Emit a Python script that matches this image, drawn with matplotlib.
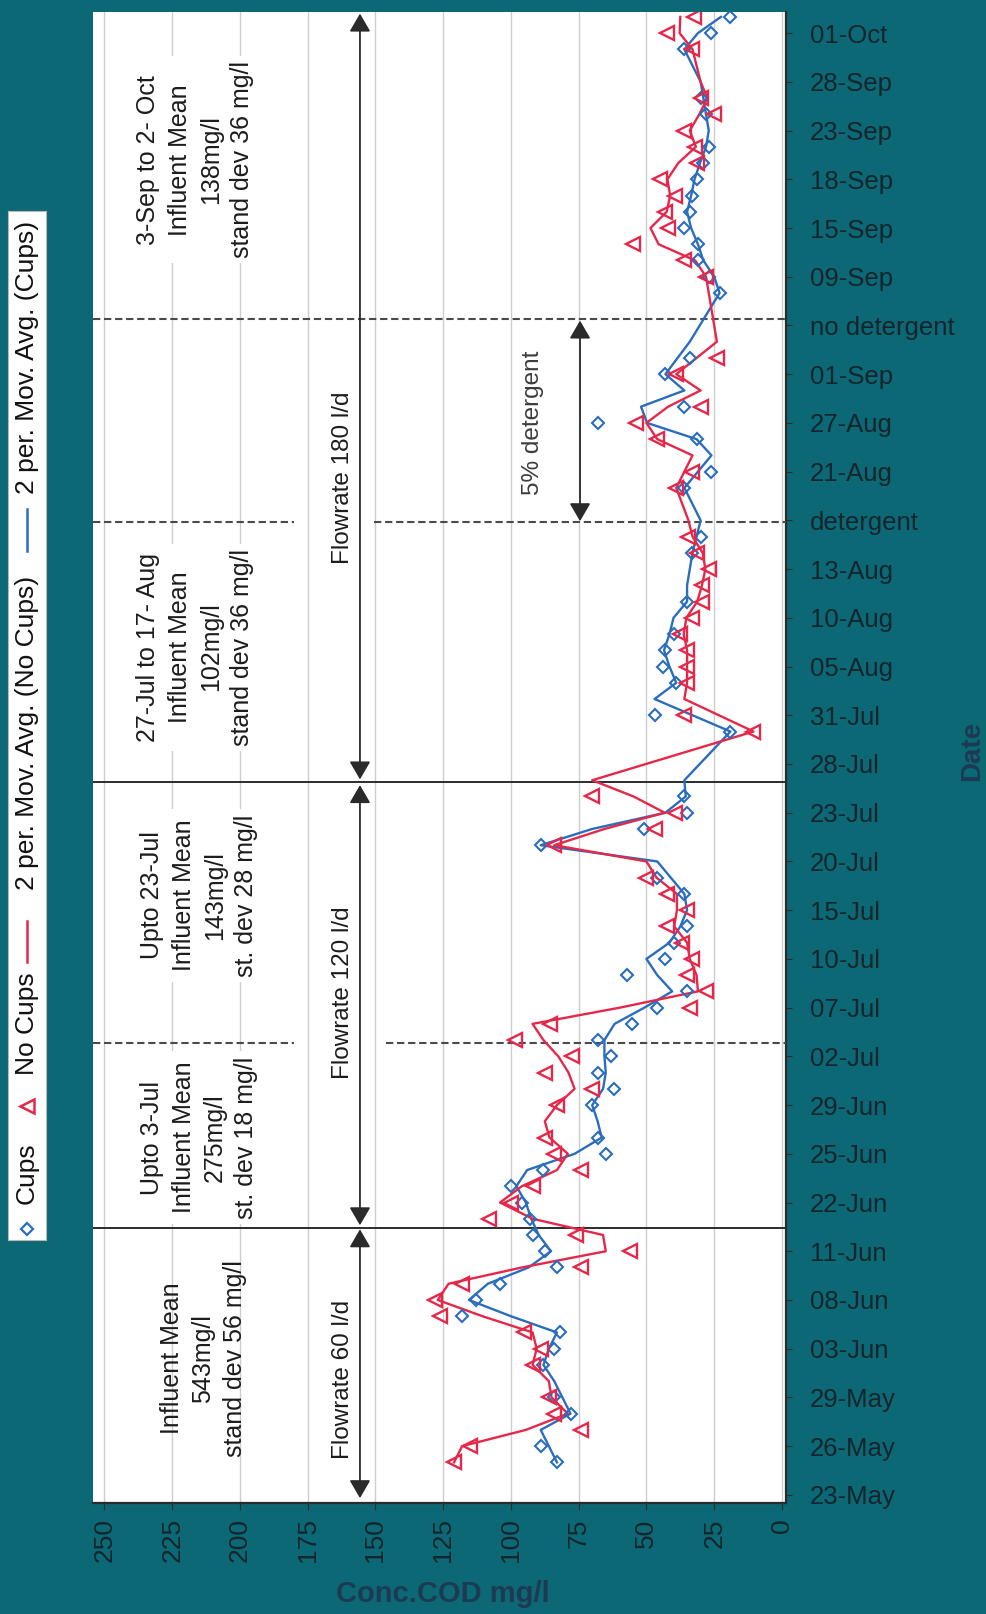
import numpy as np
import pandas as pd
import matplotlib
matplotlib.use('Agg')
import matplotlib.pyplot as plt

plt.rcParams['font.family'] = ['Liberation Sans', 'DejaVu Sans']
narrow = ['Liberation Sans Narrow', 'Liberation Sans', 'DejaVu Sans']

# category axis: one label every third sample
date_labels = ['23-May', '26-May', '29-May', '03-Jun', '08-Jun', '11-Jun', '22-Jun',
               '25-Jun', '29-Jun', '02-Jul', '07-Jul', '10-Jul', '15-Jul', '20-Jul',
               '23-Jul', '28-Jul', '31-Jul', '05-Aug', '10-Aug', '13-Aug', 'detergent',
               '21-Aug', '27-Aug', '01-Sep', 'no detergent', '09-Sep', '15-Sep', '18-Sep',
               '23-Sep', '28-Sep', '01-Oct']
n_cat = 92

# effluent COD, mg/l (sample number, value)
cups_idx = [2, 3, 5, 6, 8, 9, 10, 11, 12, 13, 14, 15, 16, 17, 18, 19, 20, 21, 22, 24,
            25, 26, 27, 28, 29, 30, 31, 32, 33, 34, 35, 37, 38, 40, 41, 42, 43, 47, 48,
            50, 51, 52, 53, 55, 58, 59, 62, 63, 65, 66, 67, 69, 70, 74, 75, 76, 77, 78,
            79, 80, 81, 82, 83, 85, 86, 89, 90, 91]
cups_val = [83, 89, 78, 84, 88, 84, 82, 118, 113, 104, 83, 87.5, 92, 93, 96, 100, 88, 65,
            68, 70, 62, 68, 63, 68, 55.5, 46, 35, 57, 43, 40, 35, 36, 46, 89, 51, 35, 36,
            19, 47, 39, 44, 43, 40, 35, 33, 30, 36, 26, 31.5, 68, 36, 43, 34, 23, 27, 31,
            31, 36, 34, 33, 31.5, 29, 27, 28, 30, 36, 26, 19]

nocups_idx = [2, 3, 4, 5, 6, 8, 9, 10, 11, 12, 13, 14, 15, 16, 17, 18, 19, 20, 21, 22,
              24, 25, 26, 27, 28, 29, 30, 31, 32, 33, 34, 35, 36, 37, 38, 40, 41, 42, 43,
              47, 48, 50, 51, 52, 53, 54, 55, 56, 57, 58, 59, 62, 63, 65, 66, 67, 69, 70,
              75, 76, 77, 78, 79, 80, 81, 82, 83, 84, 85, 86, 89, 90, 91]
nocups_val = [121, 115, 74, 84, 86, 92, 89, 95, 126, 128, 118, 74, 56, 76, 108, 100, 92,
              74, 84, 87.5, 83, 70, 87.5, 77.5, 98.5, 85.5, 34, 28, 35, 33, 37, 42.5, 35,
              42.5, 50, 84, 47, 39.5, 70, 10.5, 36, 35, 35, 35, 37.5, 33, 29.5, 29.5, 27,
              31.5, 34.5, 39, 33, 46, 54, 30, 39, 24, 28, 36, 55, 42, 43, 39.5, 45, 31.5,
              32, 36, 25, 30, 33, 42.5, 32.5]

conc_ticks = list(range(0, 251, 25))

period_notes = ['3-Sep to 2- Oct\nInfluent Mean\n138mg/l\nstand dev 36 mg/l',
                '27-Jul to 17- Aug\nInfluent Mean\n102mg/l\nstand dev 36 mg/l',
                'Upto 23-Jul\nInfluent Mean\n143mg/l\nst. dev 28 mg/l',
                'Upto 3-Jul\nInfluent Mean\n275mg/l\nst. dev 18 mg/l',
                'Influent Mean\n543mg/l\nstand dev 56 mg/l']
flow_notes = ['Flowrate 60 l/d', 'Flowrate 120 l/d', 'Flowrate 180 l/d']

blue = '#2b6dbd'
red = '#e5284a'
teal = '#0b6874'
ink = '#14252d'

W, H = 986, 1614


def box(x0, y0, x1, y1):
    return [x0 / W, 1 - y1 / H, (x1 - x0) / W, (y1 - y0) / H]


fig = plt.figure(figsize=(W / 100, H / 100), dpi=100, facecolor=teal)
ax = fig.add_axes(box(93, 12, 786, 1503))
ax.set_facecolor('white')
ax.set_xlim(254.2, -1.5)
ax.set_ylim(-0.5, 91.3)

for side in ['left', 'top']:
    ax.spines[side].set_visible(False)
for side in ['right', 'bottom']:
    ax.spines[side].set_color('#2b2b2b')
    ax.spines[side].set_linewidth(1.6)

ax.grid(axis='x', color='#cdcdcd', lw=1.0, zorder=0)

# concentration axis (runs right to left)
ax.set_xticks(conc_ticks)
ax.set_xticklabels([str(t) for t in conc_ticks], rotation=90, fontsize=19,
                   family=narrow, color=ink)
ax.tick_params(axis='x', length=5, color='#2b2b2b', pad=6)

# date axis on the right
ax.yaxis.tick_right()
ax.set_yticks(range(0, n_cat - 1, 3))
ax.set_yticklabels(date_labels, fontsize=18.5, family=narrow, color=ink)
ax.tick_params(axis='y', length=4, color='#2b2b2b', pad=13)

# series and 2-period moving averages
cups = pd.Series(np.nan, index=range(n_cat))
cups.loc[cups_idx] = cups_val
nocups = pd.Series(np.nan, index=range(n_cat))
nocups.loc[nocups_idx] = nocups_val
ma_cups = cups.rolling(2, min_periods=1).mean().dropna()
ma_nocups = nocups.rolling(2, min_periods=1).mean().dropna()

ax.plot(ma_cups.values, ma_cups.index, color=blue, lw=1.7, zorder=4)
ax.plot(ma_nocups.values, ma_nocups.index, color=red, lw=1.7, zorder=4)
ax.plot(cups_val, cups_idx, ls='none', marker='D', ms=6.5, mfc='none',
        mec=blue, mew=1.5, zorder=5)
ax.plot(nocups_val, nocups_idx, ls='none', marker='<', ms=9.5, mfc='none',
        mec=red, mew=1.7, zorder=5)

# phase boundaries
xl, xr = 254.2, -1.5
ax.plot([xl, xr], [16.45, 16.45], color='#2b2b2b', lw=1.4, zorder=3)
ax.plot([xl, xr], [43.9, 43.9], color='#2b2b2b', lw=1.4, zorder=3)
dash = dict(color='#4a4a4a', lw=1.5, ls=(0, (3.5, 1.8)), zorder=3)
ax.plot([xl, 180], [27.8, 27.8], **dash)
ax.plot([146, xr], [27.8, 27.8], **dash)
ax.plot([xl, 180], [59.9, 59.9], **dash)
ax.plot([150.5, xr], [59.9, 59.9], **dash)
ax.plot([xl, xr], [72.4, 72.4], **dash)

# flowrate spans
arrow = dict(arrowstyle='<|-|>,head_length=0.55,head_width=0.32', color='#2a2a2a',
             lw=1.3, mutation_scale=20, shrinkA=0, shrinkB=0)
for y0, y1 in [(-0.2, 16.35), (16.6, 43.7), (44.05, 91.2)]:
    ax.annotate('', xy=(155.7, y1), xytext=(155.7, y0), arrowprops=arrow, zorder=4)
ax.annotate('', xy=(74.5, 72.3), xytext=(74.5, 59.95), arrowprops=arrow, zorder=4)

for txt, yc in zip(flow_notes, [7.1, 30.9, 62.6]):
    ax.text(162, yc, txt, rotation=90, ha='center', va='center', fontsize=17.5,
            color='#1c1c1c', zorder=2,
            bbox=dict(boxstyle='square,pad=0.25', fc='white', ec='none'))

ax.text(92, 66.0, '5% detergent', rotation=90, ha='center', va='center',
        fontsize=17.5, color='#3c3c3c', zorder=2)

# influent statistics for each period
for k, (txt, (xc, yc)) in enumerate(zip(period_notes, [(216.5, 82.2), (216.5, 52.2),
                                                       (215, 36.9), (215, 22.0),
                                                       (213.5, 8.4)])):
    bb = dict(boxstyle='square,pad=0.2', fc='white', ec='none') if k < 4 else None
    ax.text(xc, yc, txt, rotation=90, ha='center', va='center', multialignment='center',
            fontsize=18, linespacing=1.38, color='#1c1c1c', zorder=2, bbox=bb)

# axis titles
fig.text(443 / W, 1 - 1594 / H, 'Conc.COD mg/l', ha='center', va='center',
         fontsize=21, fontweight='bold', family=narrow, color='#1d3a55')
fig.text(972 / W, 1 - 751 / H, 'Date', rotation=90, ha='center', va='center',
         fontsize=20, fontweight='bold', family=narrow, color='#1d3a55')

# legend, drawn vertically
lg = fig.add_axes(box(8, 211, 46, 1240))
lg.set_xlim(0, 38)
lg.set_ylim(1240, 211)
lg.set_xticks([])
lg.set_yticks([])
lg.set_facecolor('white')
for s in lg.spines.values():
    s.set_color('#b8b8b8')
lg.plot([19], [1229], ls='none', marker='D', ms=6.5, mfc='none', mec=blue, mew=1.6)
lg.text(19, 1173, 'Cups', rotation=90, ha='center', va='center', fontsize=19, color='#111')
lg.plot([19], [1106], ls='none', marker='<', ms=9.5, mfc='none', mec=red, mew=1.8)
lg.text(19, 1024, 'No Cups', rotation=90, ha='center', va='center', fontsize=19,
        color='#111')
lg.plot([19, 19], [921, 962], color=red, lw=1.8)
lg.text(19, 733, '2 per. Mov. Avg. (No Cups)', rotation=90, ha='center', va='center',
        fontsize=19, color='#111')
lg.plot([19, 19], [509, 551], color=blue, lw=1.8)
lg.text(19, 357, '2 per. Mov. Avg. (Cups)', rotation=90, ha='center', va='center',
        fontsize=19, color='#111')

fig.savefig('out.png', dpi=100, facecolor=teal)
